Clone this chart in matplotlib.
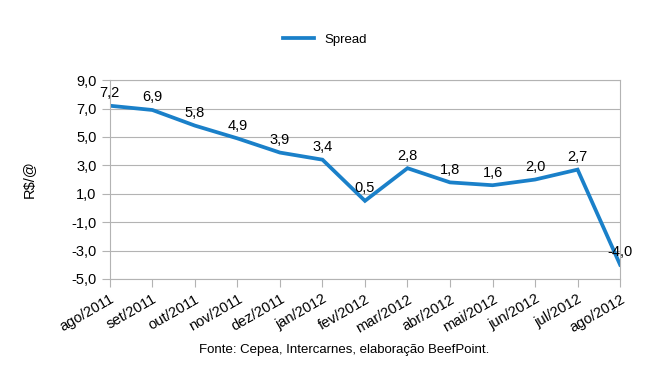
import matplotlib.pyplot as plt

# Data
months = ["ago/2011", "set/2011", "out/2011", "nov/2011", "dez/2011", "jan/2012",
          "fev/2012", "mar/2012", "abr/2012", "mai/2012", "jun/2012", "jul/2012",
          "ago/2012"]
spread = [7.2, 6.9, 5.8, 4.9, 3.9, 3.4, 0.5, 2.8, 1.8, 1.6, 2.0, 2.7, -4.0]
yticks = [-5.0, -3.0, -1.0, 1.0, 3.0, 5.0, 7.0, 9.0]

plt.rcParams['font.family'] = ['Liberation Sans', 'DejaVu Sans']

fig = plt.figure(figsize=(6.5, 3.8), dpi=100)
ax = fig.add_axes([0.169, 0.266, 0.785, 0.523])

x = list(range(len(months)))
ax.plot(x, spread, color="#1a80c9", linewidth=2.7, label="Spread",
        solid_joinstyle="miter")

for xi, v in zip(x, spread):
    ax.annotate(f"{v:.1f}".replace(".", ","), (xi, v), xytext=(0, 4),
                textcoords="offset points", ha="center", va="bottom", fontsize=10.5)

ax.set_xlim(0, len(months) - 1)
ax.set_ylim(-5, 9)
ax.set_yticks(yticks)
ax.set_yticklabels([f"{t:.1f}".replace(".", ",") for t in yticks], fontsize=10.5)
ax.set_xticks(x)
ax.set_xticklabels(months, rotation=30, ha="right", rotation_mode="anchor", fontsize=10.5)
ax.grid(axis="y", color="#b3b3b3", linewidth=0.8)
ax.set_axisbelow(True)
for s in ax.spines.values():
    s.set_color("#b3b3b3")
ax.tick_params(colors="#b3b3b3", labelcolor="black", length=6, width=0.8)
ax.set_ylabel("R$/@", fontsize=10.5, labelpad=26)

fig.legend(loc="center", bbox_to_anchor=(0.5, 0.895), frameon=False, fontsize=9.5,
           handlelength=2.4)
fig.text(0.53, 0.07, "Fonte: Cepea, Intercarnes, elaboração BeefPoint.", ha="center",
         fontsize=9.5)

fig.savefig("out.png", dpi=100)
